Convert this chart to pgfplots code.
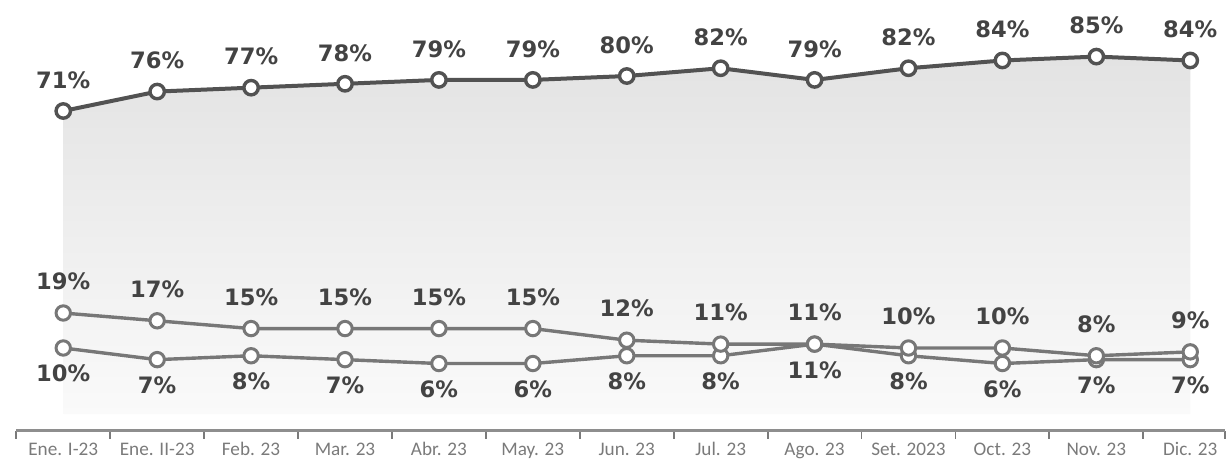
\documentclass[border=0pt]{standalone}
\usepackage{fontspec}
\setmainfont{DejaVu Sans}
\newfontfamily\tickfont{Carlito}
\usepackage{pgfplots}
\pgfplotsset{compat=1.18}
\definecolor{topline}{HTML}{525252}
\definecolor{lowline}{HTML}{777777}
\definecolor{lbl}{HTML}{434343}
\definecolor{tk}{HTML}{7a7a7a}
\begin{document}
\begin{tikzpicture}
\begin{axis}[
  name=ax,
  scale only axis, width=604.35pt, height=215.35pt,
  xmin=-0.5, xmax=12.37, ymin=-11.29, ymax=99.57,
  axis x line*=bottom, axis y line=none,
  xtick={-0.5,0.5,...,11.5,12.37}, xticklabels={},
  tick align=outside, major tick length=4pt,
  x tick style={tk, line width=0.9pt},
  x axis line style={tk!85, line width=1.4pt},
  extra x ticks={0,1,...,12},
  extra x tick labels={Ene. I-23,Ene. II-23,Feb. 23,Mar. 23,Abr. 23,May. 23,Jun. 23,Jul. 23,Ago. 23,Set. 2023,Oct. 23,Nov. 23,Dic. 23},
  extra x tick style={major tick length=0pt, tick label style={font=\tickfont\fontsize{9.6}{11}\selectfont, text=tk, text height=1.6ex, text depth=0.3ex, yshift=0pt}},
  clip=false,
  /pgf/number format/assume math mode=true,
  point meta=y,
  nodes near coords={\pgfmathprintnumber[fixed,precision=0,assume math mode=true]{\pgfplotspointmeta}\%},
  every node near coord/.append style={font=\fontsize{11.3}{13}\selectfont\bfseries, text=lbl},
]
% shaded area under the top series
\addplot[draw=none, top color=black!11, bottom color=black!2, forget plot, nodes near coords={}]
  coordinates {(0,71) (1,76) (2,77) (3,78) (4,79) (5,79) (6,80) (7,82) (8,79) (9,82) (10,84) (11,85) (12,84) (12,-7) (0,-7)} -- cycle;
% lower series
\addplot[lowline, line width=1.7pt, mark=*, mark size=3.6pt,
  mark options={fill=white, draw=lowline, line width=1.5pt},
  every node near coord/.append style={anchor=north, yshift=-4.5pt}]
  coordinates {(0,10) (1,7) (2,8) (3,7) (4,6) (5,6) (6,8) (7,8) (8,11) (9,8) (10,6) (11,7) (12,7)};
% middle series
\addplot[lowline, line width=1.7pt, mark=*, mark size=3.6pt,
  mark options={fill=white, draw=lowline, line width=1.5pt},
  every node near coord/.append style={anchor=south, yshift=7.5pt}]
  coordinates {(0,19) (1,17) (2,15) (3,15) (4,15) (5,15) (6,12) (7,11) (8,11) (9,10) (10,10) (11,8) (12,9)};
% top series
\addplot[topline, line width=2pt, mark=*, mark size=3.6pt,
  mark options={fill=white, draw=topline, line width=1.7pt},
  every node near coord/.append style={anchor=south, yshift=7pt}]
  coordinates {(0,71) (1,76) (2,77) (3,78) (4,79) (5,79) (6,80) (7,82) (8,79) (9,82) (10,84) (11,85) (12,84)};
\end{axis}
\pgfresetboundingbox
\path ([shift={(-8.15pt,-20.65pt)}]ax.south west) rectangle ([shift={(1pt,0pt)}]ax.north east);
\end{tikzpicture}
\end{document}
